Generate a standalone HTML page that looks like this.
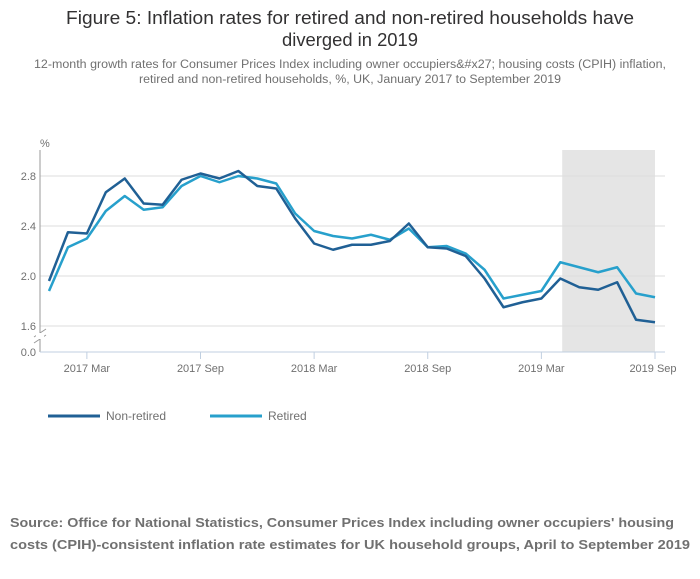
<!DOCTYPE html>
<html><head><meta charset="utf-8"><style>
body{margin:0;background:#fff;font-family:"Liberation Sans",sans-serif;}
svg text{font-family:"Liberation Sans",sans-serif;}
</style></head><body>
<svg width="700" height="574">
<text x="350" y="24" text-anchor="middle" font-size="18" fill="#323132" textLength="568" lengthAdjust="spacingAndGlyphs">Figure 5: Inflation rates for retired and non-retired households have</text>
<text x="350" y="46" text-anchor="middle" font-size="18" fill="#323132" textLength="136" lengthAdjust="spacingAndGlyphs">diverged in 2019</text>
<text x="350" y="68" text-anchor="middle" font-size="11.5" fill="#707070" textLength="632" lengthAdjust="spacingAndGlyphs">12-month growth rates for Consumer Prices Index including owner occupiers&amp;#x27; housing costs (CPIH) inflation,</text>
<text x="350" y="83" text-anchor="middle" font-size="11.5" fill="#707070" textLength="422" lengthAdjust="spacingAndGlyphs">retired and non-retired households, %, UK, January 2017 to September 2019</text>
<g id="plot"></g>
<g>
<line x1="48" y1="416" x2="100" y2="416" stroke="#206095" stroke-width="3"/>
<text x="106" y="420" font-size="12" fill="#707070">Non-retired</text>
<line x1="210" y1="416" x2="262" y2="416" stroke="#27a0cc" stroke-width="3"/>
<text x="268" y="420" font-size="12" fill="#707070">Retired</text>
</g>
<text x="10" y="527" font-size="13" font-weight="bold" fill="#707070" textLength="664" lengthAdjust="spacingAndGlyphs">Source: Office for National Statistics, Consumer Prices Index including owner occupiers' housing</text>
<text x="10" y="549" font-size="13" font-weight="bold" fill="#707070" textLength="680" lengthAdjust="spacingAndGlyphs">costs (CPIH)-consistent inflation rate estimates for UK household groups, April to September 2019</text>
</svg>
<script>
const nonRetired=[1.96,2.35,2.34,2.67,2.78,2.58,2.57,2.77,2.82,2.78,2.84,2.72,2.70,2.46,2.26,2.21,2.25,2.25,2.28,2.42,2.23,2.22,2.16,1.98,1.75,1.79,1.82,1.98,1.91,1.89,1.95,1.65,1.63];
const retired=[1.88,2.23,2.30,2.52,2.64,2.53,2.55,2.72,2.80,2.75,2.80,2.78,2.74,2.50,2.36,2.32,2.30,2.33,2.29,2.38,2.23,2.24,2.18,2.05,1.82,1.85,1.88,2.11,2.07,2.03,2.07,1.86,1.83];
const yTicks=[1.6,2.0,2.4,2.8];
const xTickIdx=[2,8,14,20,26,32];
const xTickLabels=["2017 Mar","2017 Sep","2018 Mar","2018 Sep","2019 Mar","2019 Sep"];
const shadeStart=27.1, shadeEnd=32;
const NS="http://www.w3.org/2000/svg";
const g=document.getElementById('plot');
const X=i=>49+i*(606/32);
const Y=v=>176-(v-2.8)*125;
function el(t,a){const e=document.createElementNS(NS,t);for(const k in a)e.setAttribute(k,a[k]);g.appendChild(e);return e;}
let r=el('rect',{x:X(shadeStart),y:150,width:X(shadeEnd)-X(shadeStart),height:202,fill:'#e5e5e5'});


yTicks.forEach(v=>{
 const l=el('line',{x1:40,x2:665,y1:Y(v),y2:Y(v),stroke:'#dddddd','stroke-width':1});
 
 
 const t=el('text',{x:36,y:Y(v)+4,'text-anchor':'end','font-size':11,fill:'#707070'});t.textContent=v.toFixed(1);
 
 
});
let z=el('text',{x:36,y:356,'text-anchor':'end','font-size':11,fill:'#707070'});z.textContent='0.0';


let pc=el('text',{x:40,y:147,'font-size':11,fill:'#707070'});pc.textContent='%';


let ya=el('line',{x1:40,x2:40,y1:150,y2:352,stroke:'#999','stroke-width':1});


let br=el('path',{d:'M34 337 L46 329 M34 343 L46 335',stroke:'#999','stroke-width':1,fill:'none'});


el('rect',{x:36,y:333,width:8,height:6,fill:'#fff'});
let xa=el('line',{x1:40,x2:665,y1:352,y2:352,stroke:'#c0cfe0','stroke-width':1});


xTickIdx.forEach((i,k)=>{
 const l=el('line',{x1:X(i),x2:X(i),y1:352,y2:359,stroke:'#c0cfe0'});
 
 
 const t=el('text',{x:X(i),y:372,'text-anchor':'middle','font-size':11,fill:'#707070'});t.textContent=xTickLabels[k];
 if(k==5)t.setAttribute('x',X(i)-2);
 
 
});
function line(d,c,n){const p=el('polyline',{points:d.map((v,i)=>X(i)+','+Y(v)).join(' '),fill:'none',stroke:c,'stroke-width':2.5,'stroke-linejoin':'round'});
 
 }
line(retired,'#27a0cc','retired-line');
line(nonRetired,'#206095','non-retired-line');
</script>
</body></html>
